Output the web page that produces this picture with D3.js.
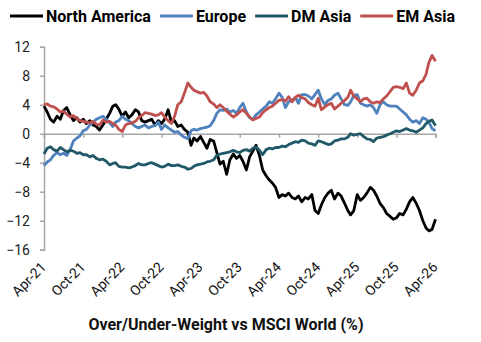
<!DOCTYPE html>
<html>
<head>
<meta charset="utf-8">
<script src="https://cdn.jsdelivr.net/npm/d3@7"></script>
<style>
  body { margin: 0; background: #fff; }
  text { font-family: Roboto, "Noto Sans", sans-serif; }
</style>
</head>
<body>
<svg id="chart" width="481" height="342"></svg>
<script>
// semi-monthly observations, Apr 2021 .. Apr 2026
const dates = d3.utcMonth.range(new Date(Date.UTC(2021, 3, 1)), new Date(Date.UTC(2026, 3, 2)))
  .flatMap(d => [d, d3.utcDay.offset(d, 15)])
  .slice(0, 121)

const northAmerica = [
  3.8, 3.0, 2.0, 1.6, 2.4, 2.0, 3.2, 3.6, 2.6, 1.8, 2.2, 1.6, 2.0, 1.4, 1.8, 1.2, 1.0, 0.5, 1.2, 2.0,
  2.8, 3.8, 4.0, 3.4, 2.4, 3.0, 2.2, 2.6, 3.3, 3.0, 1.8, 1.6, 1.8, 2.0, 1.2, 1.8, 1.4, 2.0, 3.3, 1.6,
  1.8, 1.0, 1.2, 0.6, 0.2, -1.6, -0.6, -1.0, -0.4, -1.2, -2.0, -0.8, -1.0, -2.6, -4.2, -3.8, -5.6, -3.6, -2.8, -3.4,
  -3.0, -3.8, -5.0, -3.2, -2.4, -1.6, -3.0, -5.0, -5.8, -6.4, -6.8, -7.4, -8.8, -8.4, -8.6, -8.2, -8.8, -9.0, -8.6, -9.4,
  -8.8, -9.0, -8.4, -10.6, -11.0, -9.8, -8.8, -8.2, -7.8, -9.0, -8.2, -8.6, -9.6, -10.6, -11.2, -10.6, -8.4, -9.2, -8.8, -8.2,
  -7.4, -7.8, -8.6, -9.6, -10.2, -11.0, -11.4, -11.8, -11.6, -11.0, -11.2, -10.4, -9.4, -8.8, -9.6, -10.6, -12.0, -13.0, -13.4, -13.2,
  -11.8
]
const europe = [
  -4.4, -3.9, -3.6, -3.0, -2.6, -2.9, -2.7, -3.0, -2.2, -1.0, -0.6, -0.3, 0.4, 0.6, 1.2, 1.6, 2.0, 2.2, 2.4, 2.0,
  1.5, 1.0, 1.6, 1.8, 2.4, 2.0, 1.8, 1.4, 1.0, 0.8, 1.0, 1.2, 0.8, 1.0, 1.1, 1.6, 0.6, 1.2, 0.8, 0.5,
  0.2, 0.3, -0.2, -0.5, -0.7, 0.4, 0.6, 0.5, 0.7, 0.8, 0.9, 1.1, 1.8, 2.8, 3.3, 3.2, 3.4, 3.0, 3.2, 2.8,
  3.6, 4.2, 3.0, 2.2, 2.0, 2.6, 3.0, 3.4, 3.8, 4.4, 4.2, 4.8, 5.6, 5.0, 3.6, 4.4, 4.6, 5.0, 4.2, 5.4,
  5.4, 5.2, 4.8, 5.4, 6.0, 4.8, 4.0, 4.6, 4.8, 5.3, 5.6, 4.8, 4.0, 3.9, 4.4, 5.3, 5.4, 4.2, 4.0, 3.8,
  4.0, 3.6, 2.8, 4.0, 4.4, 4.0, 3.8, 3.8, 3.8, 3.4, 3.0, 2.6, 2.0, 1.6, 1.8, 1.4, 2.2, 2.0, 1.6, 0.7,
  0.4
]
const dmAsia = [
  -2.8, -2.0, -1.8, -2.2, -2.4, -1.9, -2.2, -2.5, -2.3, -2.4, -2.7, -2.6, -2.9, -2.9, -3.2, -3.0, -3.4, -3.6, -3.5, -3.8,
  -4.3, -4.1, -4.0, -4.5, -4.6, -4.6, -4.7, -4.6, -4.4, -4.1, -4.3, -4.3, -4.1, -4.0, -4.2, -4.4, -4.6, -4.5, -4.2, -4.4,
  -4.4, -4.3, -4.5, -4.6, -4.9, -4.8, -4.5, -4.3, -4.2, -4.1, -3.9, -3.8, -3.6, -3.0, -2.8, -2.7, -2.6, -2.5, -2.3, -2.5,
  -2.6, -2.3, -2.2, -2.4, -2.0, -1.8, -2.3, -2.9, -2.2, -2.0, -2.1, -1.9, -1.9, -1.7, -1.8, -1.5, -1.3, -1.1, -1.2, -0.9,
  -1.0, -1.3, -1.4, -1.6, -1.0, -1.1, -1.3, -1.5, -1.4, -1.0, -0.9, -0.7, -0.7, -0.5, 0.0, -0.2, -0.1, 0.0, -0.4, -0.7,
  -0.8, -1.1, -0.6, -0.5, -0.4, -0.2, 0.0, 0.2, 0.4, 0.3, 0.5, 0.7, 0.5, 0.4, 0.2, 0.5, 0.8, 1.4, 1.7, 1.9,
  1.1
]
const emAsia = [
  4.0, 4.1, 3.8, 3.7, 3.4, 3.0, 3.1, 2.7, 2.3, 2.5, 2.1, 1.8, 1.7, 1.6, 1.5, 1.7, 1.3, 1.2, 1.9, 1.6,
  1.7, 1.4, 1.2, 0.6, 0.3, 1.2, 1.4, 1.5, 1.7, 2.2, 2.5, 2.9, 2.8, 2.7, 2.5, 2.6, 2.9, 2.3, 1.8, 1.4,
  2.4, 4.0, 4.4, 5.6, 7.0, 6.4, 6.0, 5.8, 5.6, 5.7, 5.2, 4.4, 4.1, 3.6, 4.0, 3.6, 3.1, 2.7, 2.3, 2.6,
  3.0, 3.3, 2.8, 2.3, 1.9, 2.1, 2.3, 2.9, 3.3, 3.6, 3.8, 4.2, 4.6, 4.7, 4.5, 5.1, 4.4, 5.0, 5.3, 5.0,
  4.8, 4.3, 4.0, 3.8, 4.9, 3.3, 3.7, 4.0, 4.2, 3.4, 3.8, 4.2, 4.6, 5.0, 6.0, 5.2, 4.8, 4.4, 4.8, 4.9,
  4.4, 4.2, 4.4, 4.3, 4.8, 5.2, 5.8, 6.4, 6.5, 6.4, 6.2, 7.0, 5.6, 5.3, 6.0, 7.0, 7.3, 8.2, 9.8, 10.8,
  10.0
]

const seriesNames = ["North America", "Europe", "DM Asia", "EM Asia"]
const seriesColors = ["#000000", "#4f81bd", "#215968", "#c0504d"]
const seriesValues = [northAmerica, europe, dmAsia, emAsia]

const yTicks = [12, 8, 4, 0, -4, -8, -12, -16]
const xTicks = d3.utcMonth.range(new Date(Date.UTC(2021, 3, 1)), new Date(Date.UTC(2026, 3, 2)), 6)
const fmt = d3.utcFormat("%b-%y")

const svg = d3.select("#chart")
const axisColor = "#a6a6a6"

const x = d3.scaleUtc()
  .domain([new Date(Date.UTC(2021, 3, 1)), new Date(Date.UTC(2026, 3, 1))])
  .range([44, 435.5])
const y = d3.scaleLinear().domain([-16, 12]).range([249.7, 46.7])

// y axis
const yAxis = svg.append("g")
  .attr("transform", "translate(44,0)")
  .call(d3.axisLeft(y).tickValues(yTicks).tickSize(4).tickPadding(10))
yAxis.select(".domain").attr("stroke", axisColor).attr("stroke-width", 1.5)
yAxis.selectAll(".tick line").attr("stroke", axisColor).attr("stroke-width", 1.5)
yAxis.selectAll(".tick text")
  .attr("font-size", 14).attr("fill", "#222")
  .style("font-family", "Roboto")

// x axis along zero
const xAxis = svg.append("g")
  .attr("transform", `translate(0,${y(0)})`)
  .call(d3.axisBottom(x).tickValues(xTicks).tickSize(4).tickFormat(""))
xAxis.select(".domain").attr("stroke", axisColor).attr("stroke-width", 1.5)
xAxis.selectAll(".tick line").attr("stroke", axisColor).attr("stroke-width", 1.5)

// x labels, rotated, below the plot
svg.append("g").selectAll("text")
  .data(xTicks)
  .enter()
  .append("text")
  .attr("transform", d => `translate(${x(d) + 3},268) rotate(-45)`)
  .attr("text-anchor", "end")
  .attr("font-size", 14)
  .attr("fill", "#111")
  .text(d => fmt(d))

// lines
const line = d3.line()
  .x((d, i) => x(dates[i]))
  .y(d => y(d))

seriesValues.forEach((vals, k) => {
  svg.append("path")
    .datum(vals)
    .attr("d", line)
    .attr("fill", "none")
    .attr("stroke", seriesColors[k])
    .attr("stroke-width", 2.8)
    .attr("stroke-linejoin", "round")
})

// legend
const legend = svg.append("g")
let lx = 10
seriesNames.forEach((name, k) => {
  legend.append("line")
    .attr("x1", lx).attr("x2", lx + 33)
    .attr("y1", 16).attr("y2", 16)
    .attr("stroke", seriesColors[k])
    .attr("stroke-width", 3)
  const t = legend.append("text")
    .attr("x", lx + 36)
    .attr("y", 22)
    .attr("font-size", 16)
    .attr("font-weight", "bold")
    .attr("fill", "#000")
    .text(name)
  lx += 36 + t.node().getComputedTextLength() + 9
})

// title
svg.append("text")
  .attr("x", 226)
  .attr("y", 330)
  .attr("text-anchor", "middle")
  .attr("font-size", 16)
  .attr("font-weight", "bold")
  .attr("fill", "#111")
  .text("Over/Under-Weight vs MSCI World (%)")
</script>
</body>
</html>
